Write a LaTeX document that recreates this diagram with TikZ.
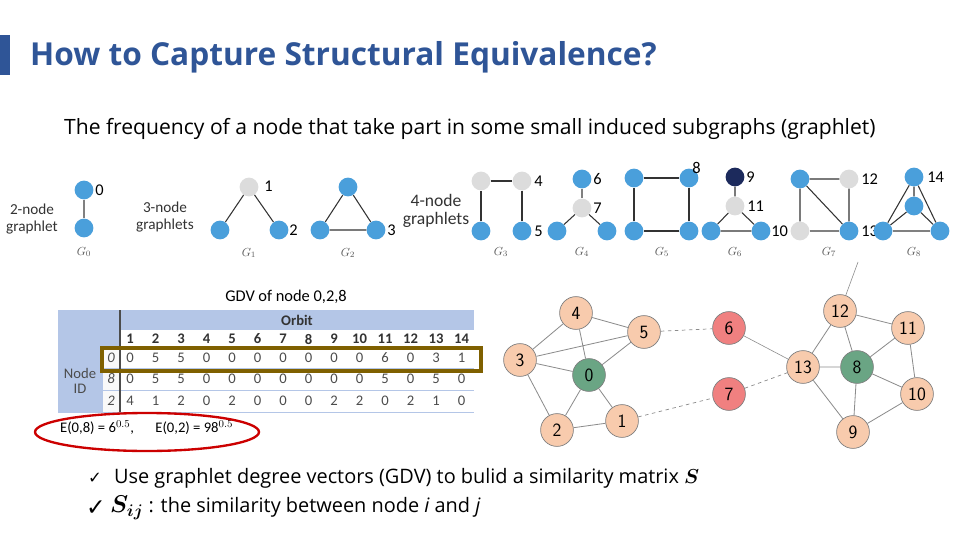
\documentclass[tikz,border=0pt]{standalone}
\usepackage{bm}
\usepackage{fontspec}
\setmainfont{Carlito}
\newfontfamily\titlefont{Open Sans}
\newfontfamily\symfont{DejaVu Sans}
\usetikzlibrary{shapes.geometric}
\definecolor{gblue}{HTML}{4A9FDB}
\definecolor{ggray}{HTML}{DCDCDC}
\definecolor{gnavy}{HTML}{1C2A5C}
\definecolor{titleblue}{HTML}{2F5597}
\definecolor{tblue}{HTML}{B4C6E7}
\definecolor{orangef}{HTML}{F8CBAD}
\definecolor{greenf}{HTML}{6AA584}
\definecolor{redf}{HTML}{F08080}
\definecolor{brownb}{HTML}{7F6000}
\tikzset{
 gb/.style={circle,fill=gblue,inner sep=0pt,minimum size=16pt},
 gg/.style={circle,fill=ggray,inner sep=0pt,minimum size=16pt},
 gn/.style={circle,fill=gnavy,inner sep=0pt,minimum size=16pt},
 glab/.style={font=\fontsize{14}{14}\selectfont,anchor=west,inner sep=1pt},
 gname/.style={font=\fontsize{10}{10}\selectfont\itshape,text=gray!70!black},
 ge/.style={draw=black!80,line width=0.9pt},
 ge2/.style={draw=gray,line width=0.9pt},
 txt/.style={font=\fontsize{13}{14}\selectfont,align=center,text=black!80},
 nd/.style={circle,draw=gray,line width=0.6pt,minimum size=28pt,inner sep=0pt,font=\fontsize{16}{16}\selectfont\sffamily},
 on/.style={nd,fill=orangef},
 gr/.style={nd,fill=greenf},
 rd/.style={nd,fill=redf},
 ed/.style={draw=gray!90,line width=0.7pt},
 dd/.style={draw=gray!90,line width=0.6pt,dashed},
 cell/.style={font=\fontsize{12.5}{12.5}\selectfont,text=black!70},
}
\begin{document}
\begin{tikzpicture}[x=0.03cm,y=-0.03cm]
\useasboundingbox (0,0) rectangle (960,540);
\fill[white] (0,0) rectangle (960,540);
% title
\fill[titleblue] (0,35) rectangle (10,75);
\node[anchor=west,text=titleblue,font=\titlefont\bfseries\fontsize{27}{27}\selectfont] (title) at (26,57) {How to Capture Structural Equivalence?};
\node[anchor=west,font=\titlefont\fontsize{18}{18}\selectfont] (sub) at (60,129) {The frequency of a node that take part in some small induced subgraphs (graphlet)};
% G0
\node[txt] (t2) at (32,219) {2-node\\graphlet};
\node[gb] (a0) at (84,190) {}; \node[gb] (a1) at (84,228) {};
\draw[ge2] (a0)--(a1);
\node[glab] (l0) at (94,190) {0};
\node[gname] (n0) at (84,252) {$G_0$};
% 3-node
\node[txt] (t3) at (165,217) {3-node\\graphlets};
\node[gg] (b0) at (249,187) {}; \node[gb] (b1) at (220,230) {}; \node[gb] (b2) at (279,230) {};
\draw[ge] (b1)--(b0)--(b2);
\node[glab] (l1) at (263,186) {1}; \node[glab] (l2) at (288,230) {2};
\node[gname] (n1) at (249,253) {$G_1$};
\node[gb] (c0) at (348,187) {}; \node[gb] (c1) at (320,230) {}; \node[gb] (c2) at (376,230) {};
\draw[ge] (c0)--(c1)--(c2)--(c0);
\node[glab] (l3) at (386,230) {3};
\node[gname] (n2) at (348,253) {$G_2$};
% 4-node
\node[txt,font=\fontsize{15}{16}\selectfont] (t4) at (436,211) {4-node\\graphlets};
\node[gg] (d0) at (481,181) {}; \node[gg] (d1) at (522,181) {}; \node[gb] (d2) at (481,231) {}; \node[gb] (d3) at (522,231) {};
\draw[ge] (d2)--(d0)--(d1)--(d3);
\node[glab] (l4) at (533,181) {4}; \node[glab] (l5) at (533,231) {5};
\node[gname] (n3) at (501,252) {$G_3$};
\node[gb] (e0) at (582,179) {}; \node[gg] (e1) at (582,208) {}; \node[gb] (e2) at (557,231) {}; \node[gb] (e3) at (607,231) {};
\draw[ge2] (e0)--(e1); \draw[ge] (e2)--(e1)--(e3);
\node[glab] (l6) at (592,179) {6}; \node[glab] (l7) at (592,208) {7};
\node[gname] (n4) at (582,252) {$G_4$};
\node[gb] (f0) at (634,178) {}; \node[gb] (f1) at (689,178) {}; \node[gb] (f2) at (634,231) {}; \node[gb] (f3) at (689,231) {};
\draw[ge] (f0)--(f1)--(f3)--(f2)--(f0);
\node[glab] (l8) at (691,168) {8};
\node[gname] (n5) at (662,252) {$G_5$};
\node[gn] (h0) at (735,177) {}; \node[gg] (h1) at (735,206) {}; \node[gb] (h2) at (711,231) {}; \node[gb] (h3) at (761,231) {};
\draw[ge] (h0)--(h1)--(h2)--(h3)--(h1);
\node[glab] (l9) at (745,177) {9}; \node[glab] (l11) at (746,206) {11}; \node[glab] (l10) at (770,231) {10};
\node[gname] (n6) at (735,252) {$G_6$};
\node[gb] (i0) at (800,179) {}; \node[gg] (i1) at (849,179) {}; \node[gg] (i2) at (800,231) {}; \node[gb] (i3) at (849,231) {};
\draw[ge] (i0)--(i1)--(i3)--(i0)--(i2); \draw[ge2] (i2)--(i3);
\node[glab] (l12) at (860,179) {12}; \node[glab] (l13) at (860,231) {13};
\node[gname] (n7) at (829,252) {$G_7$};
\node[gb] (j0) at (914,177) {}; \node[gb] (j1) at (914,206) {}; \node[gb] (j2) at (883,231) {}; \node[gb] (j3) at (940,231) {};
\draw[ge] (j0)--(j1) (j0)--(j2) (j0)--(j3) (j1)--(j2) (j1)--(j3); \draw[ge2] (j2)--(j3);
\node[glab] (l14) at (926,177) {14};
\node[gname] (n8) at (914,252) {$G_8$};
% table
\node[font=\fontsize{14}{14}\selectfont] (gdv) at (286,297) {GDV of node 0,2,8};
\fill[tblue] (58,310) rectangle (474,330);
\fill[tblue] (58,310) rectangle (120,347);
\fill[tblue] (58,347) rectangle (103,412);
\fill[white!95!gray] (103,347) rectangle (120,412);
\foreach \yy in {347,368,390,412} \draw[tblue,line width=0.8pt] (58,\yy)--(474,\yy);
\draw[black!70,line width=1pt] (120,310)--(120,412);
\node[cell,font=\fontsize{12.5}{12.5}\selectfont\bfseries,text=black!80] (orb) at (297,320) {Orbit};
\foreach \i in {1,...,14} \node[cell,font=\fontsize{12.5}{12.5}\selectfont\bfseries,text=black!80] at ({130+25.5*(\i-1)},339) {\i};
\node[cell,text=black!70,align=center] (nid) at (80,381) {Node\\ID};
\foreach \r/\yy/\vals in {0/358/{0,5,5,0,0,0,0,0,0,0,6,0,3,1},8/379/{0,5,5,0,0,0,0,0,0,0,5,0,5,0},2/401/{4,1,2,0,2,0,0,0,2,2,0,2,1,0}}{
  \node[cell,font=\fontsize{12.5}{12.5}\selectfont\itshape] at (111,\yy) {\r};
  \foreach \v [count=\k] in \vals \node[cell] at ({130+25.5*(\k-1)},\yy) {\v};
}
\draw[brownb,line width=3pt] (102,348) rectangle (481,371);
\node[anchor=west,font=\fontsize{12.5}{12.5}\selectfont] (eq) at (56,428) {E(0,8) = 6$^{0.5}$,\quad\ \ E(0,2) = 98$^{0.5}$};
\draw[red!80!black,line width=2pt] (147,432) ellipse [x radius=112, y radius=19];
% network
\node[on] (g4) at (576,313) {4};
\node[on] (g5) at (644,332) {5};
\node[on] (g3) at (520,360) {3};
\node[gr] (g0) at (589,375) {0};
\node[on] (g2) at (557,430) {2};
\node[on] (g1) at (622,421) {1};
\node[rd] (g6) at (729,328) {6};
\node[rd] (g7) at (729,394) {7};
\node[on] (g13) at (803,367) {13};
\node[gr] (g8) at (857,367) {8};
\node[on] (g12) at (840,311) {12};
\node[on] (g11) at (908,328) {11};
\node[on] (g10) at (917,394) {10};
\node[on] (g9) at (853,432) {9};
\coordinate (top) at (858,262);
\draw[ed] (g4)--(g3) (g4)--(g5) (g4)--(g0) (g3)--(g5) (g3)--(g0) (g3)--(g2) (g5)--(g0) (g0)--(g2) (g0)--(g1) (g2)--(g1);
\draw[dd] (g5)--(g6) (g7)--(g13) (g1)--(g7);
\draw[ed,line width=0.5pt] (g6)--(g13);
\draw[ed] (g12)--(g13) (g12)--(g11) (g12)--(g8) (g13)--(g8) (g13)--(g9) (g8)--(g11) (g8)--(g10) (g8)--(g9) (g11)--(g10) (g10)--(g9);
\draw[ed,line width=0.5pt] (g12)--(top);
% bullets
\node[anchor=west,font=\symfont\fontsize{14}{14}\selectfont] (ck1) at (84,478) {✓};
\node[anchor=west,font=\titlefont\fontsize{17}{17}\selectfont] (b1t) at (110,478) {Use graphlet degree vectors (GDV) to bulid a similarity matrix $\bm{S}$};
\node[anchor=west,font=\symfont\fontsize{20}{20}\selectfont] (ck2) at (82,508) {✓};
\node[anchor=west,font=\titlefont\fontsize{17}{17}\selectfont] (b2t) at (106,508) {\fontsize{22}{22}\selectfont$\bm{S_{ij}}$\fontsize{17}{17}\selectfont\ : the similarity between node {\itshape i} and {\itshape j}};
\end{tikzpicture}
\end{document}
